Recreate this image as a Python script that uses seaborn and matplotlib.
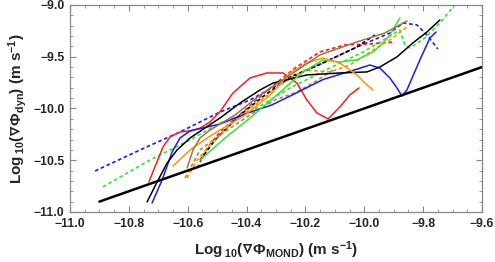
import matplotlib
matplotlib.use("Agg")
import matplotlib.pyplot as plt
import seaborn as sns
from matplotlib.ticker import MultipleLocator

# Newtonian/MOND reference line (y = x)
ref_x = [-10.9, -9.6]
ref_y = [-10.9, -9.6]

# solid curves
red_x = [-10.732, -10.684, -10.660, -10.626, -10.592, -10.558, -10.524, -10.490, -10.446, -10.388,
         -10.331, -10.276, -10.229, -10.195, -10.161, -10.123, -10.083, -10.049, -10.018]
red_y = [-10.710, -10.372, -10.275, -10.227, -10.217, -10.190, -10.130, -10.030, -9.850, -9.705,
         -9.657, -9.657, -9.754, -9.918, -10.043, -10.101, -9.986, -9.870, -9.802]

blue_x = [-10.721, -10.687, -10.653, -10.626, -10.592, -10.534, -10.490, -10.395, -10.314, -10.252,
          -10.140, -10.025, -9.981, -9.947, -9.913, -9.889, -9.872, -9.855, -9.811, -9.777, -9.756]
blue_y = [-10.913, -10.691, -10.420, -10.285, -10.217, -10.179, -10.150, -10.043, -9.966, -9.880,
          -9.720, -9.620, -9.580, -9.610, -9.705, -9.802, -9.879, -9.821, -9.531, -9.319, -9.261]

black_x = [-10.738, -10.704, -10.670, -10.636, -10.592, -10.541, -10.490, -10.422, -10.354, -10.310,
           -10.195, -10.083, -9.991, -9.947, -9.889, -9.835, -9.787, -9.743]
black_y = [-10.903, -10.710, -10.527, -10.401, -10.285, -10.188, -10.092, -9.947, -9.821, -9.754,
           -9.676, -9.657, -9.647, -9.599, -9.502, -9.367, -9.261, -9.145]

green_x = [-10.558, -10.473, -10.388, -10.297, -10.208, -10.140, -10.083, -10.025, -9.970, -9.936,
           -9.913, -9.879]
green_y = [-10.498, -10.285, -10.092, -9.870, -9.647, -9.531, -9.551, -9.531, -9.454, -9.367,
           -9.290, -9.126]

orange_x = [-10.650, -10.592, -10.534, -10.490, -10.405, -10.320, -10.252, -10.195, -10.140, -10.083,
            -10.025, -9.991, -9.970]
orange_y = [-10.556, -10.401, -10.285, -10.208, -10.063, -9.870, -9.657, -9.560, -9.512, -9.560,
            -9.676, -9.773, -9.821]

brown_x = [-10.602, -10.582, -10.558, -10.524, -10.439, -10.354, -10.252, -10.151, -10.025, -9.930, -9.855]
brown_y = [-10.575, -10.401, -10.285, -10.208, -10.063, -9.870, -9.676, -9.483, -9.357, -9.271, -9.155]

# dashed curves
blue_d_x = [-10.915, -10.762, -10.626, -10.490, -10.388, -10.252, -10.140, -10.025, -9.913, -9.868,
            -9.821, -9.787, -9.750]
blue_d_y = [-10.604, -10.401, -10.227, -10.034, -9.918, -9.705, -9.560, -9.406, -9.271, -9.174,
            -9.193, -9.290, -9.425]

green_d_x = [-10.888, -10.728, -10.592, -10.490, -10.388, -10.252, -10.117, -10.004, -9.923, -9.879,
             -9.862, -9.845, -9.794, -9.743, -9.692]
green_d_y = [-10.758, -10.498, -10.304, -10.140, -10.034, -9.802, -9.609, -9.454, -9.319, -9.242,
             -9.386, -9.415, -9.319, -9.174, -9.000]

red_d_x = [-10.568, -10.534, -10.490, -10.405, -10.320, -10.235, -10.151, -10.066, -9.981, -9.896]
red_d_y = [-10.575, -10.382, -10.227, -10.014, -9.802, -9.609, -9.454, -9.386, -9.377, -9.357]

black_d_x = [-10.558, -10.507, -10.422, -10.337, -10.252, -10.140, -10.025, -9.964]
black_d_y = [-10.498, -10.304, -10.063, -9.870, -9.696, -9.560, -9.406, -9.290]

orange_d_x = [-10.602, -10.568, -10.524, -10.456, -10.371, -10.286, -10.201, -10.117, -10.049, -9.970,
              -9.913, -9.855]
orange_d_y = [-10.672, -10.498, -10.353, -10.159, -9.966, -9.773, -9.628, -9.647, -9.580, -9.435,
              -9.338, -9.213]

tan_d_x = [-10.609, -10.558, -10.490, -10.378, -10.303, -10.229, -10.168, -10.106]
tan_d_y = [-10.672, -10.401, -10.256, -10.043, -9.918, -9.841, -9.744, -9.628]

xticks = [-11.0, -10.8, -10.6, -10.4, -10.2, -10.0, -9.8, -9.6]
yticks = [-11.0, -10.5, -10.0, -9.5, -9.0]

sns.set_style("ticks")
plt.rcParams['font.family'] = ['Liberation Sans', 'DejaVu Sans']
plt.rcParams['mathtext.fontset'] = 'custom'
plt.rcParams['mathtext.rm'] = 'Liberation Sans:bold'
plt.rcParams['mathtext.bf'] = 'Liberation Sans:bold'
plt.rcParams['mathtext.it'] = 'Liberation Sans:bold'
plt.rcParams['mathtext.default'] = 'bf'
plt.rcParams['mathtext.fallback'] = 'stixsans'

fig = plt.figure(figsize=(4.95, 2.62), dpi=100)
ax = fig.add_axes([0.1414, 0.191, 0.8323, 0.790])

RED, BLUE, GREEN = '#ff1a1a', '#1a1aff', '#33e633'
ORANGE, BROWN, TAN = '#ff9500', '#a0704a', '#b8864b'
dash = (0, (2.2, 1.6))

solid = [(red_x, red_y, RED), (blue_x, blue_y, BLUE), (black_x, black_y, 'black'),
         (green_x, green_y, GREEN), (orange_x, orange_y, ORANGE), (brown_x, brown_y, BROWN)]
dashed = [(blue_d_x, blue_d_y, BLUE), (green_d_x, green_d_y, GREEN), (red_d_x, red_d_y, RED),
          (black_d_x, black_d_y, 'black'), (orange_d_x, orange_d_y, ORANGE), (tan_d_x, tan_d_y, TAN)]

for xs, ys, c in dashed:
    sns.lineplot(x=xs, y=ys, color=c, linestyle=dash, linewidth=1.2, sort=False, estimator=None, ax=ax)
for xs, ys, c in solid:
    sns.lineplot(x=xs, y=ys, color=c, linewidth=1.1, sort=False, estimator=None, ax=ax)
sns.lineplot(x=ref_x, y=ref_y, color='black', linewidth=1.8, sort=False, estimator=None, ax=ax)

ax.set_xlim(-11.0, -9.6)
ax.set_ylim(-11.0, -9.0)
ax.set_xticks(xticks)
ax.set_yticks(yticks)
ax.set_xticklabels([f"{t:.1f}".replace('-', '\u2212') for t in xticks])
ax.set_yticklabels([f"{t:.1f}".replace('-', '\u2212') for t in yticks])
ax.xaxis.set_minor_locator(MultipleLocator(0.05))
ax.yaxis.set_minor_locator(MultipleLocator(0.1))

for s in ax.spines.values():
    s.set_color('#888888')
    s.set_linewidth(0.9)
ax.tick_params(which='both', direction='in', top=True, right=True, color='#888888',
               labelsize=8.8)
ax.tick_params(axis='x', pad=4)
ax.tick_params(axis='y', pad=4)
ax.tick_params(which='major', length=4, width=0.8)
ax.tick_params(which='minor', length=2.4, width=0.6)
for lab in ax.get_xticklabels() + ax.get_yticklabels():
    lab.set_fontweight('bold')

ax.set_xlabel(r"Log$\,_{10}$($\nabla$Φ$_{MOND}$) (m s$^{-1}$)", fontsize=11, fontweight='bold', labelpad=7)
ax.set_ylabel(r"Log$\,_{10}$($\nabla$Φ$_{dyn}$) (m s$^{-1}$)", fontsize=11, fontweight='bold', labelpad=3)

fig.savefig("out.png", dpi=100)
